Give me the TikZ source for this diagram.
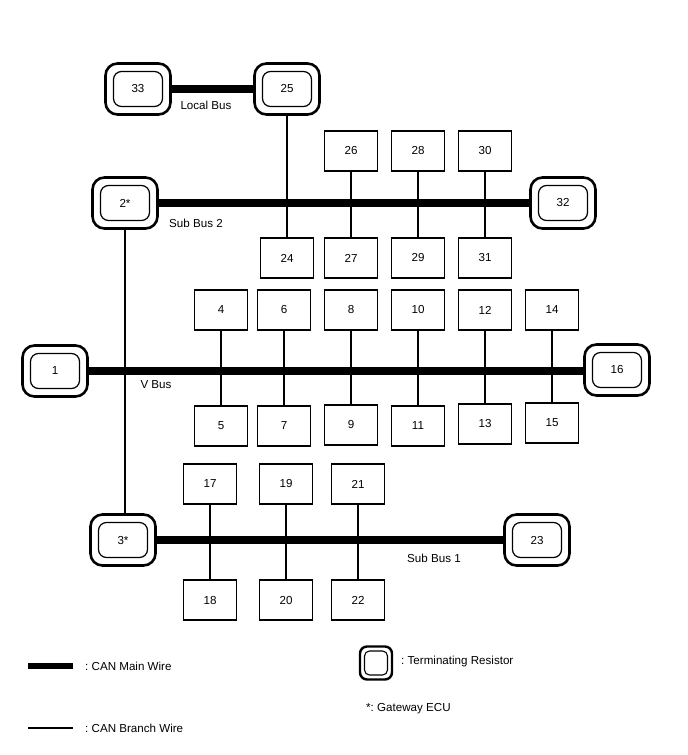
\documentclass[tikz,border=0pt]{standalone}
\usepackage{fontspec}
\setmainfont{Liberation Sans}
\frenchspacing
\begin{document}
\begin{tikzpicture}[x=1pt,y=-1pt,
  every node/.style={font=\fontsize{11.6}{13}\selectfont, inner sep=0pt},
  ecu/.style={draw, line width=1.2pt, minimum width=53pt, minimum height=40pt},
  term/.style={draw, line width=2.6pt, rounded corners=12pt, minimum width=65pt, minimum height=51pt,
    path picture={\draw[line width=1.2pt, rounded corners=8pt]
      ([shift={(-24.5pt,-17.5pt)}]path picture bounding box.center) rectangle ++(49pt,35pt);}},
  smallterm/.style={draw, line width=2.4pt, rounded corners=7pt, minimum width=32pt, minimum height=33pt,
    path picture={\draw[line width=1.1pt, rounded corners=5pt]
      ([shift={(-11.5pt,-12pt)}]path picture bounding box.center) rectangle ++(23pt,24pt);}},
  mainw/.style={line width=8pt},
  branchw/.style={line width=1.6pt},
  lbl/.style={anchor=center}
]
\useasboundingbox (0,0) rectangle (688,755);

% Local bus
\node[term] (n33) at (138,89) {33};
\node[term] (n25) at (287,89) {25};
\draw[mainw] (n33.east) -- (n25.west);
\node[lbl] (lb) at (206,105) {Local Bus};

% Sub Bus 2
\node[term] (n2) at (125,203) {2*};
\node[term] (n32) at (563,203) {32};
\node[ecu] (n26) at (351,151) {26};
\node[ecu] (n28) at (418,151) {28};
\node[ecu] (n30) at (485,151) {30};
\node[ecu] (n24) at (287,258) {24};
\node[ecu] (n27) at (351,258) {27};
\node[ecu] (n29) at (418,258) {29};
\node[ecu] (n31) at (485,258) {31};
\draw[branchw] (n25.south) -- (n24.north);
\draw[branchw] (n26.south) -- (n27.north);
\draw[branchw] (n28.south) -- (n29.north);
\draw[branchw] (n30.south) -- (n31.north);
\draw[mainw] (n2.east) -- (n32.west);
\node[lbl] (sb2) at (196,223) {Sub Bus 2};

% V Bus
\node[term] (n1) at (55,371) {1};
\node[term] (n16) at (617,370) {16};
\node[ecu] (n4) at (221,310) {4};
\node[ecu] (n6) at (284,310) {6};
\node[ecu] (n8) at (351,310) {8};
\node[ecu] (n10) at (418,310) {10};
\node[ecu] (n12) at (485,310) {12};
\node[ecu] (n14) at (552,310) {14};
\node[ecu] (n5) at (221,426) {5};
\node[ecu] (n7) at (284,426) {7};
\node[ecu] (n9) at (351,425) {9};
\node[ecu] (n11) at (418,426) {11};
\node[ecu] (n13) at (485,424) {13};
\node[ecu] (n15) at (552,423) {15};
\foreach \a/\b in {n4/n5,n6/n7,n8/n9,n10/n11,n12/n13,n14/n15}
  \draw[branchw] (\a.south) -- (\b.north);
\draw[mainw] (n1.east) -- (n16.west |- n1.east);
\node[lbl] (vb) at (156,385) {V Bus};

% Sub Bus 1
\node[term] (n3) at (123,540) {3*};
\node[term] (n23) at (537,540) {23};
\node[ecu] (n17) at (210,484) {17};
\node[ecu] (n19) at (286,484) {19};
\node[ecu] (n21) at (358,484) {21};
\node[ecu] (n18) at (210,600) {18};
\node[ecu] (n20) at (286,600) {20};
\node[ecu] (n22) at (358,600) {22};
\foreach \a/\b in {n17/n18,n19/n20,n21/n22}
  \draw[branchw] (\a.south) -- (\b.north);
\draw[mainw] (n3.east) -- (n23.west);
\node[lbl] (sb1) at (434,558) {Sub Bus 1};

% Gateway link
\draw[branchw] (n2.south) -- (n2.south |- n3.north);

% Legend
\coordinate (lm1) at (28,666);
\coordinate (lm2) at (73,666);
\draw[line width=6pt] (lm1) -- (lm2);
\node[anchor=west] (lmt) at (85,666) {: CAN Main Wire};
\coordinate (lb1) at (28,728);
\coordinate (lb2) at (73,728);
\draw[branchw] (lb1) -- (lb2);
\node[anchor=west] (lbt) at (85,728) {: CAN Branch Wire};
\node[smallterm] (lt) at (376,663) {};
\node[anchor=west] (ltt) at (401,661) {: Terminating Resistor};
\node[anchor=west] (lgt) at (366,709) {*: Gateway ECU};
\end{tikzpicture}
\end{document}
